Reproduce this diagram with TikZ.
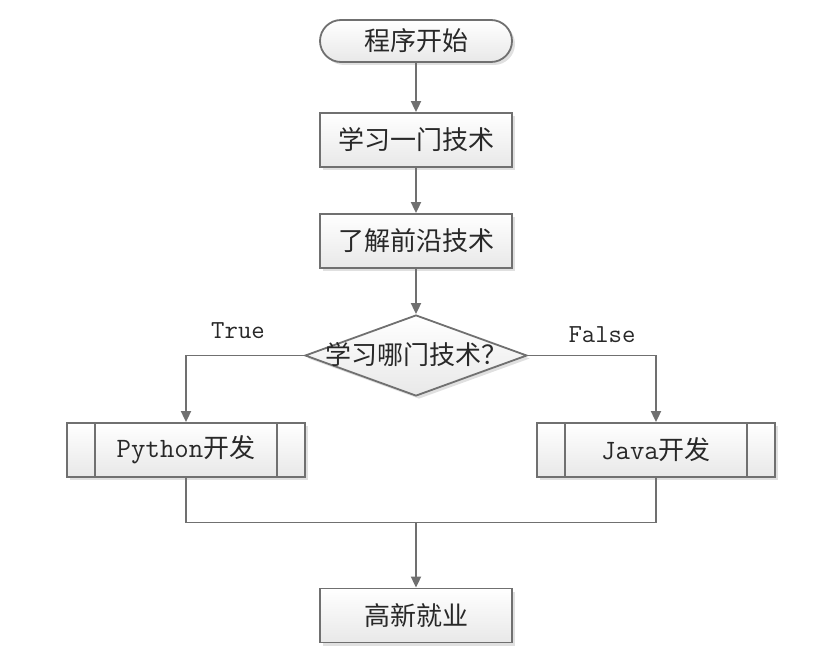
\documentclass[tikz,border=0pt]{standalone}
\usepackage{fontspec}
\setmainfont{Latin Modern Mono}
\newfontfamily\cjk{Noto Sans CJK SC}
\usetikzlibrary{shapes.geometric,arrows.meta,shadows}
\definecolor{edge}{RGB}{112,112,112}
\definecolor{txt}{RGB}{40,40,40}
\tikzset{
  base/.style={draw=edge, line width=1.8pt, top color=white, bottom color=black!9,
    drop shadow={shadow xshift=3pt, shadow yshift=-3pt, fill=black!12, opacity=1},
    text=txt, font=\fontsize{26}{30}\selectfont, inner sep=0pt},
  proc/.style={base, rectangle, minimum width=192pt, minimum height=54pt},
  term/.style={base, rectangle, rounded corners=21pt, minimum width=192pt, minimum height=42pt},
  predef/.style={base, rectangle, minimum width=238pt, minimum height=54pt},
  decision/.style={base, diamond, minimum width=222pt, minimum height=81pt},
  lbl/.style={text=txt, font=\fontsize{26}{30}\selectfont, inner sep=0pt},
  arr/.style={draw=edge, line width=1.8pt, -{Triangle[length=11pt,width=10pt]}},
  ln/.style={draw=edge, line width=1.8pt},
  bar/.style={draw=edge, line width=1.8pt}
}
\begin{document}
\begin{tikzpicture}[x=1pt,y=-1pt]
\useasboundingbox (0,0) rectangle (828,661);
\node[term] (start) at (416,41) {\cjk 程序开始};
\node[proc] (s1) at (416,140) {\cjk 学习一门技术};
\node[proc] (s2) at (416,241) {\cjk 了解前沿技术};
\node[decision] (d) at (416,355.5) {};
\node[lbl] (dq) at (416,355) {\cjk 学习哪门技术？};
\node[predef] (py) at (186,450) {{\fontsize{28}{30}\selectfont Python}{\cjk 开发}};
\node[predef] (jv) at (656,450) {{\fontsize{28}{30}\selectfont Java}{\cjk 开发}};
\draw[bar] ([xshift=29pt]py.north west) -- ([xshift=29pt]py.south west);
\draw[bar] ([xshift=-29pt]py.north east) -- ([xshift=-29pt]py.south east);
\draw[bar] ([xshift=29pt]jv.north west) -- ([xshift=29pt]jv.south west);
\draw[bar] ([xshift=-29pt]jv.north east) -- ([xshift=-29pt]jv.south east);
\node[proc] (end) at (416,615.5) {\cjk 高新就业};
\node[lbl] (t) at (238,331) {True};
\node[lbl] (f) at (602,335) {False};
\coordinate (m) at (416,522.5);
\draw[arr] (start) -- (s1);
\draw[arr] (s1) -- (s2);
\draw[arr] (s2) -- (d.north);
\draw[arr] (d.west) -| (py.north);
\draw[arr] (d.east) -| (jv.north);
\draw[ln] (py.south) -- (py.south |- m) -- (jv.south |- m) -- (jv.south);
\draw[arr] (m) -- (end);
\end{tikzpicture}
\end{document}
